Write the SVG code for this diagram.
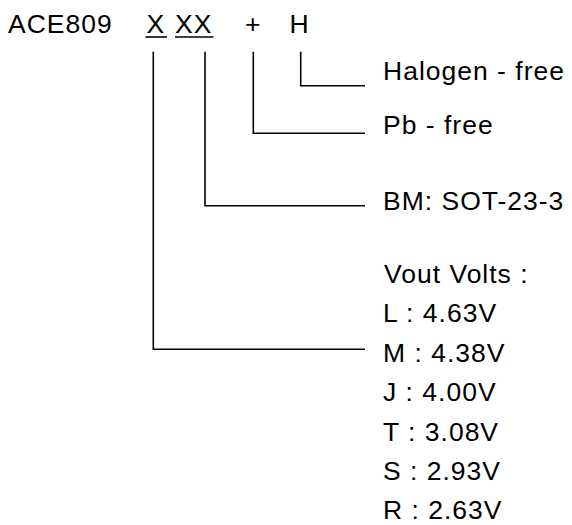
<svg xmlns="http://www.w3.org/2000/svg" width="572" height="525" viewBox="0 0 572 525">
<style>
text{font-family:"Liberation Sans",Arial,sans-serif;font-size:26.5px;letter-spacing:1px;fill:#000}
.c{fill:none;stroke:#000;stroke-width:1.6}
</style>
<rect width="572" height="525" fill="#fff"/>
<g id="code">
<text x="8" y="33.3">ACE809</text>
<text x="146.5" y="33.3">X</text>
<text x="175" y="33.3">XX</text>
<text x="245" y="33.3">+</text>
<text x="289.5" y="33.3">H</text>
<line class="c" x1="145.5" y1="37" x2="167" y2="37"/>
<line class="c" x1="175" y1="37" x2="213.5" y2="37"/>
</g>
<g id="halogen"><text x="383" y="80">Halogen - free</text></g>
<g id="pb"><text x="383" y="133.5">Pb - free</text></g>
<g id="bm"><text x="383" y="210">BM: SOT-23-3</text></g>
<g id="vout">
<text x="384" y="283">Vout Volts :</text>
<text x="383" y="322.4">L : 4.63V</text>
<text x="383" y="361.8">M : 4.38V</text>
<text x="383" y="401.2">J : 4.00V</text>
<text x="383" y="440.6">T : 3.08V</text>
<text x="383" y="480">S : 2.93V</text>
<text x="383" y="519.2">R : 2.63V</text>
</g>
<g id="connectors">
<polyline class="c" points="300.7,51.7 300.7,85.7 365,85.7"/>
<polyline class="c" points="253.3,51.7 253.3,133.3 365,133.3"/>
<polyline class="c" points="205,51.7 205,205.7 365,205.7"/>
<polyline class="c" points="153.3,51.7 153.3,349.3 365,349.3"/>
</g>
</svg>
